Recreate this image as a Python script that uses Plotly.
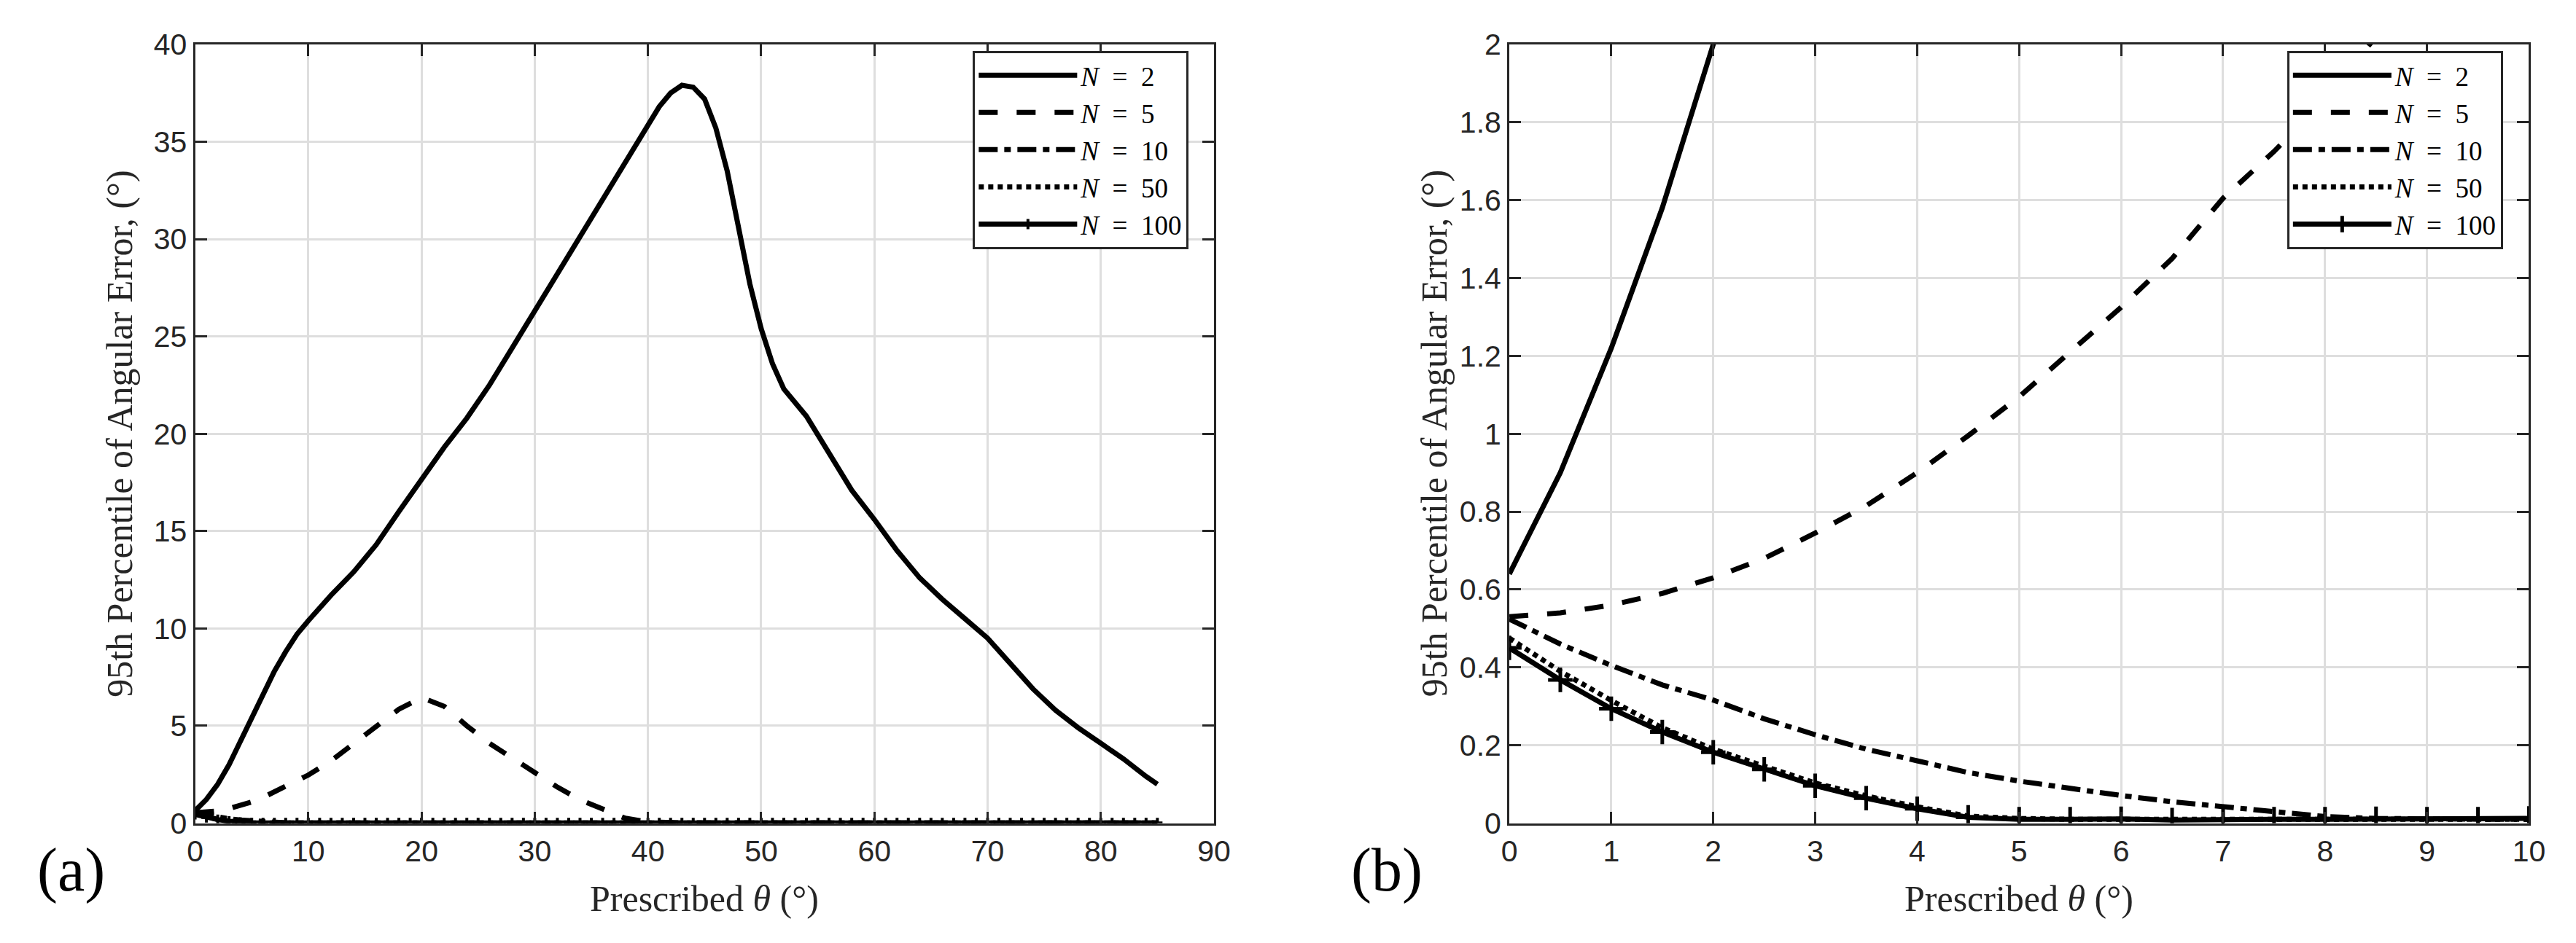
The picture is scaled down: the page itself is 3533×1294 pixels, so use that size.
import plotly.graph_objects as go

# ---- panel (a): full range of prescribed theta ----
theta_a = [0, 1, 2, 3, 4, 5, 6, 7, 8, 9, 10, 12, 14, 16, 18, 20, 22, 24, 26, 28, 30,
           32, 34, 36, 38, 40, 41, 42, 43, 44, 45, 46, 47, 48, 49, 50, 51, 52, 53, 54,
           56, 58, 60, 62, 64, 66, 68, 70, 72, 74, 76, 78, 80, 82, 84, 85]
n2_a = [0.64, 1.22, 2.0, 3.0, 4.2, 5.4, 6.6, 7.8, 8.8, 9.7, 10.4, 11.7, 12.9, 14.3, 16.0,
        17.7, 19.3, 20.8, 22.5, 24.4, 26.3, 28.2, 30.2, 32.1, 34.0, 35.9, 36.8, 37.5, 37.9,
        37.8, 37.2, 35.7, 33.5, 30.6, 27.7, 25.4, 23.6, 22.3, 21.6, 20.9, 19.0, 17.1, 15.6,
        14.0, 12.6, 11.5, 10.5, 9.5, 8.2, 6.9, 5.8, 4.9, 4.1, 3.3, 2.4, 2.0]
n5_a = [0.53, 0.555, 0.625, 0.745, 0.905, 1.09, 1.32, 1.6, 1.86, 2.17, 2.47, 3.2, 4.1,
        5.0, 5.85, 6.45, 6.0, 5.0, 4.1, 3.35, 2.6, 1.85, 1.2, 0.7, 0.25, 0.06, 0.03, 0.02] + [0.01] * 28

theta_c = list(range(0, 86))
n10_a = [0.52, 0.405, 0.316, 0.227, 0.16, 0.108, 0.071, 0.042, 0.017, 0.01] + [0.01] * 76
n50_a = [0.48, 0.315, 0.19, 0.103, 0.042, 0.012] + [0.01] * 80
n100_a = [0.45, 0.294, 0.182, 0.096, 0.037, 0.01] + [0.01] * 80

# ---- panel (b): zoom on 0..10 deg ----
theta_b = [0, 0.5, 1, 1.5, 2, 2.5, 3, 3.5, 4, 4.5, 5, 5.5, 6, 6.5, 7, 7.5, 8, 8.5, 9, 9.5, 10]
n2_b = [0.64, 0.90, 1.22, 1.58, 2.0, 2.48, 3.0]
n5_b = [0.53, 0.54, 0.56, 0.59, 0.63, 0.68, 0.745, 0.815, 0.9, 0.995, 1.095, 1.21, 1.325,
        1.45, 1.605, 1.725, 1.86, 2.02, 2.17, 2.32, 2.47]
n10_b = [0.524, 0.46, 0.405, 0.355, 0.316, 0.268, 0.227, 0.19, 0.16, 0.13, 0.108, 0.088,
         0.071, 0.055, 0.042, 0.03, 0.017, 0.012, 0.01, 0.01, 0.01]
n50_b = [0.475, 0.39, 0.315, 0.245, 0.19, 0.145, 0.103, 0.07, 0.042, 0.018, 0.012, 0.01,
         0.01, 0.01, 0.01, 0.01, 0.01, 0.01, 0.01, 0.01, 0.01]
n100_b = [0.45, 0.368, 0.294, 0.234, 0.182, 0.138, 0.096, 0.064, 0.037, 0.015, 0.01, 0.01,
          0.011, 0.008, 0.01, 0.01, 0.01, 0.011, 0.01, 0.01, 0.012]

# en spaces around "=" to mimic the LaTeX spacing
names = ["<i>N</i>\u2002=\u20022", "<i>N</i>\u2002=\u20025", "<i>N</i>\u2002=\u200210",
         "<i>N</i>\u2002=\u200250", "<i>N</i>\u2002=\u2002100"]
ytick_b = [0, 0.2, 0.4, 0.6, 0.8, 1, 1.2, 1.4, 1.6, 1.8, 2]
ytext_b = ["0", "0.2", "0.4", "0.6", "0.8", "1", "1.2", "1.4", "1.6", "1.8", "2"]

W, H = 3533, 1294
LW = 7
styles = ["solid", "26px,26px", "26px,9px,9px,9px", "7px,6px", "solid"]
ink = "#262626"
serif = "Liberation Serif"

fig = go.Figure()

series_a = [(theta_a, n2_a), (theta_a, n5_a), (theta_c, n10_a), (theta_c, n50_a), (theta_c, n100_a)]
series_b = [(theta_b[:len(n2_b)], n2_b), (theta_b, n5_b), (theta_b, n10_b), (theta_b, n50_b), (theta_b, n100_b)]

for i, (xs, ys) in enumerate(series_a):
    mode = "lines+markers" if i == 4 else "lines"
    fig.add_trace(go.Scatter(x=xs, y=ys, mode=mode, name=names[i], xaxis="x", yaxis="y",
                             legend="legend",
                             line=dict(color="black", width=LW, dash=styles[i]),
                             marker=dict(symbol="cross-thin-open", size=10,
                                         line=dict(color="black", width=4))))

for i, (xs, ys) in enumerate(series_b):
    mode = "lines+markers" if i == 4 else "lines"
    fig.add_trace(go.Scatter(x=xs, y=ys, mode=mode, name=names[i], xaxis="x2", yaxis="y2",
                             legend="legend2",
                             line=dict(color="black", width=LW, dash=styles[i]),
                             marker=dict(symbol="cross-thin-open", size=24,
                                         line=dict(color="black", width=5))))

axis_common = dict(showline=True, linewidth=3, linecolor=ink, mirror="ticks",
                   ticks="inside", ticklen=16, tickwidth=3, tickcolor=ink,
                   showgrid=True, gridcolor="#dedede", gridwidth=3, zeroline=False,
                   tickfont=dict(family="Liberation Sans", size=41, color=ink))

x0a, x1a = 251 / W, 1662 / W
x0b, x1b = 2071 / W, 3483 / W
y0, y1 = (H - 1139) / H, (H - 31) / H

legend_common = dict(xanchor="right", y=(H - 40) / H, yanchor="top",
                     bgcolor="white", bordercolor=ink, borderwidth=3, itemwidth=135,
                     font=dict(family=serif, size=37, color="black"))

fig.update_layout(
    width=W, height=H,
    margin=dict(l=0, r=0, t=0, b=0),
    paper_bgcolor="white", plot_bgcolor="white",
    xaxis=dict(domain=[x0a, x1a], range=[0, 90], dtick=10, tick0=0, anchor="y", **axis_common),
    yaxis=dict(domain=[y0, y1], range=[0, 40], dtick=5, tick0=0, anchor="x", **axis_common),
    xaxis2=dict(domain=[x0b, x1b], range=[0, 10], dtick=1, tick0=0, anchor="y2", **axis_common),
    yaxis2=dict(domain=[y0, y1], range=[0, 2], tickvals=ytick_b, ticktext=ytext_b,
                anchor="x2", **axis_common),
    legend=dict(x=1627 / W, **legend_common),
    legend2=dict(x=3447 / W, **legend_common),
)

xtitle = "Prescribed <i>θ</i> (°)"
ytitle = "95th Percentile of Angular Error, (°)"
ann = [
    dict(text=xtitle, x=(x0a + x1a) / 2, y=(H - 1246) / H, font=dict(family=serif, size=50, color=ink)),
    dict(text=xtitle, x=(x0b + x1b) / 2, y=(H - 1246) / H, font=dict(family=serif, size=50, color=ink)),
    dict(text=ytitle, x=147 / W, y=(H - 585) / H, textangle=-90, font=dict(family=serif, size=50, color=ink)),
    dict(text=ytitle, x=1967 / W, y=(H - 585) / H, textangle=-90, font=dict(family=serif, size=50, color=ink)),
    dict(text="(a)", x=79 / W, y=(H - 1206) / H, font=dict(family=serif, size=84, color="black")),
    dict(text="(b)", x=1901 / W, y=(H - 1206) / H, font=dict(family=serif, size=84, color="black")),
]
for a in ann:
    fig.add_annotation(xref="paper", yref="paper", showarrow=False,
                       xanchor="center", yanchor="middle", **a)

fig.write_html("out.html")
